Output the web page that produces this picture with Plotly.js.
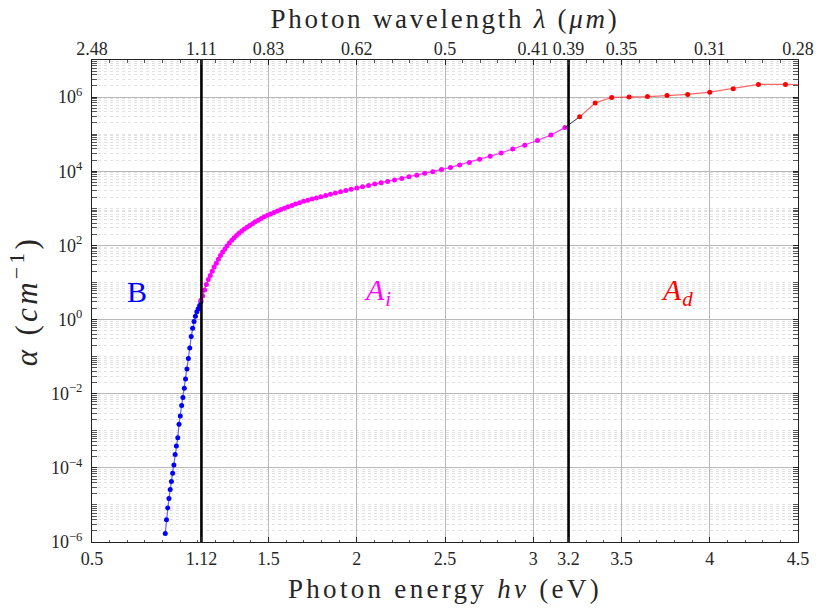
<!DOCTYPE html>
<html>
<head>
<meta charset="utf-8">
<script src="https://cdn.plot.ly/plotly-3.0.1.min.js"></script>
<style>
html,body{margin:0;padding:0;background:#fff;}
#chart{width:819px;height:613px;}
.xtitle, .ytitle { letter-spacing: 3.3px; }
.x2title { letter-spacing: 2.7px; }
.annotation-text { letter-spacing: 1px; }
</style>
</head>
<body>
<div id="chart"></div>
<script>
// ---- data ----
// Region B (below band gap)
const energyB = [0.915,0.922,0.929,0.936,0.943,0.950,0.957,0.964,0.971,0.978,0.986,0.993,1.000,1.008,1.015,1.023,1.030,1.038,1.046,1.054,1.062,1.070,1.078,1.086,1.094,1.102,1.110,1.117];
const alphaB = [1.7e-6,4.0e-6,8.3e-6,1.5e-5,2.6e-5,4.3e-5,7.2e-5,1.2e-4,2.3e-4,3.9e-4,6.5e-4,1.5e-3,2.5e-3,4.8e-3,7.9e-3,1.4e-2,2.5e-2,4.6e-2,8.9e-2,0.17,0.35,0.58,0.89,1.23,1.62,1.95,2.4,3.0];

// Region A_i (indirect)
const energyAi = [1.117,1.127,1.138,1.148,1.159,1.170,1.181,1.192,1.204,1.216,1.228,1.240,1.253,1.265,1.278,1.292,1.305,1.319,1.333,1.348,1.363,1.378,1.393,1.409,1.425,1.442,1.459,1.476,1.494,1.512,1.531,1.550,1.570,1.590,1.610,1.632,1.653,1.676,1.699,1.722,1.746,1.771,1.797,1.824,1.851,1.879,1.908,1.938,1.968,2.000,2.033,2.067,2.102,2.138,2.175,2.214,2.255,2.296,2.340,2.385,2.431,2.480,2.531,2.583,2.638,2.696,2.756,2.818,2.884,2.952,3.024,3.100,3.179];
const alphaAi = [3.3,4.3,6.3,8.8,12,15.5,20,26,33,42,53,66,80,97,116,137,160,186,214,245,277,310,346,385,432,480,535,591,647,707,775,850,928,1010,1100,1190,1300,1420,1540,1660,1770,1900,2050,2210,2380,2580,2810,3040,3270,3520,3810,4140,4490,4880,5320,5780,6390,7050,7850,8800,9700,11100,12700,14800,17200,21000,25500,31100,39600,50000,67400,95200,150000];

// Region A_d (direct)
const energyAd = [3.263,3.351,3.444,3.543,3.647,3.758,3.875,4.000,4.133,4.276,4.429,4.593];
const alphaAd = [2.93e5,6.9e5,9.8e5,1.0e6,1.03e6,1.1e6,1.18e6,1.36e6,1.68e6,2.2e6,2.2e6,2.1e6];

// Band edges (vertical lines), eV
const bandEdges = [1.12, 3.2];

// Tick labels
const energyTicks = [0.5,1.12,1.5,2,2.5,3,3.2,3.5,4,4.5];
const energyTickText = ['0.5','1.12','1.5','2','2.5','3','3.2','3.5','4','4.5'];
const wavelengthTickText = ['2.48','1.11','0.83','0.62','0.5','0.41','0.39','0.35','0.31','0.28'];
const alphaTicks = [1e-6,1e-4,1e-2,1e0,1e2,1e4,1e6];
const alphaTickText = ['10<sup>−6</sup>','10<sup>−4</sup>','10<sup>−2</sup>','10<sup>0</sup>','10<sup>2</sup>','10<sup>4</sup>','10<sup>6</sup>'];

// ---- chart ----
const FONT = 'Liberation Serif, Times New Roman, serif';
const TXT = '#262626';
const traces = [];
traces.push({
  x: energyB, y: alphaB, type: 'scatter', mode: 'lines+markers',
  line: {color: 'rgba(40,40,255,0.7)', width: 1.2},
  marker: {color: '#0000ff', size: 5}, showlegend: false
});
traces.push({
  x: energyAi, y: alphaAi, type: 'scatter', mode: 'lines+markers',
  line: {color: 'rgba(255,0,255,0.8)', width: 1.2},
  marker: {color: '#ff00ff', size: 5}, showlegend: false
});
traces.push({
  x: [energyAi[energyAi.length-1], energyAd[0]], y: [alphaAi[alphaAi.length-1], alphaAd[0]],
  type: 'scatter', mode: 'lines', line: {color: '#333', width: 1}, showlegend: false
});
traces.push({
  x: energyAd, y: alphaAd, type: 'scatter', mode: 'lines+markers',
  line: {color: 'rgba(255,40,40,0.7)', width: 1.2},
  marker: {color: '#ff0000', size: 5}, showlegend: false
});
bandEdges.forEach(e => {
  traces.push({x: [e, e], y: [1e-6, 1e7], type: 'scatter', mode: 'lines',
    line: {color: '#000', width: 2.6}, showlegend: false, hoverinfo: 'skip'});
});
// invisible trace carrying the top (wavelength) axis
traces.push({x: [energyTicks[0], energyTicks[energyTicks.length-1]], y: [1, 1], xaxis: 'x2', type: 'scatter', mode: 'markers', marker: {opacity: 0}, showlegend: false, hoverinfo: 'skip'});

const layout = {
  width: 819, height: 613,
  margin: {l: 92, r: 21, t: 60, b: 71},
  paper_bgcolor: '#fff', plot_bgcolor: '#fff',
  font: {family: FONT, color: TXT, size: 18},
  xaxis: {
    range: [0.5, 4.5], tickmode: 'array', tickvals: energyTicks, ticktext: energyTickText,
    showgrid: true, gridcolor: '#b8b8b8', gridwidth: 1,
    ticks: 'inside', ticklen: 5, tickcolor: '#222',
    showline: true, linecolor: '#222', linewidth: 1, mirror: true,
    zeroline: false, tickfont: {family: FONT, size: 18, color: TXT},
    minor: {dtick: 0.1, tick0: 0.5, ticks: 'inside', ticklen: 2.5, tickcolor: '#555', showgrid: false},
    title: {text: 'Photon energy <i>hν</i> (eV)', font: {family: FONT, size: 27, color: TXT}, standoff: 11}
  },
  xaxis2: {
    overlaying: 'x', side: 'top', range: [0.5, 4.5], tickmode: 'array', tickvals: energyTicks, ticktext: wavelengthTickText,
    showgrid: false, ticks: 'inside', ticklen: 5, tickcolor: '#222', zeroline: false,
    tickfont: {family: FONT, size: 18, color: TXT},
    minor: {dtick: 0.1, tick0: 0.5, ticks: 'inside', ticklen: 2.5, tickcolor: '#555', showgrid: false},
    title: {text: 'Photon wavelength <i>λ</i> (<i>μm</i>)', font: {family: FONT, size: 27, color: TXT}, standoff: 2}
  },
  yaxis: {
    type: 'log', range: [-6, 7], tickmode: 'array', tickvals: alphaTicks, ticktext: alphaTickText,
    showgrid: true, gridcolor: '#b8b8b8', gridwidth: 1,
    ticks: 'inside', ticklen: 5, tickcolor: '#222', ticklabelstandoff: 5,
    showline: true, linecolor: '#222', linewidth: 1, mirror: 'allticks',
    zeroline: false, tickfont: {family: FONT, size: 18, color: TXT},
    minor: {dtick: 'D1', ticks: 'inside', ticklen: 2.5, tickcolor: '#555', showgrid: true, gridcolor: '#e2e2e2', griddash: 'dot', gridwidth: 1},
    title: {text: '<i>α</i> (<i>cm</i><sup>−1</sup>)', font: {family: FONT, size: 31, color: TXT}, standoff: 4}
  },
  annotations: [
    {x: 0.755, y: 0.75, xref: 'x', yref: 'y', text: 'B', showarrow: false, font: {family: FONT, size: 30, color: '#0000ff'}},
    {x: 2.12, y: 0.75, xref: 'x', yref: 'y', text: '<i>A<sub>i</sub></i>', showarrow: false, font: {family: FONT, size: 30, color: '#ff00ff'}},
    {x: 3.82, y: 0.75, xref: 'x', yref: 'y', text: '<i>A<sub>d</sub></i>', showarrow: false, font: {family: FONT, size: 30, color: '#ff0000'}}
  ]
};

Plotly.newPlot('chart', traces, layout, {displayModeBar: false, staticPlot: true});
</script>
</body>
</html>
